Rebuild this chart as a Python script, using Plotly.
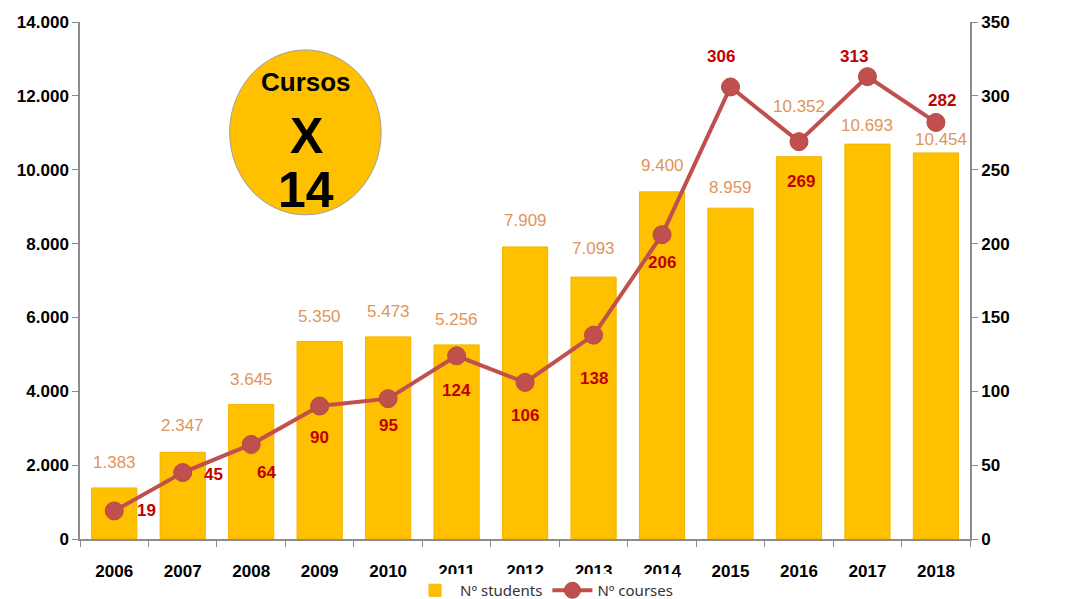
import plotly.graph_objects as go
from plotly.subplots import make_subplots

years = ["2006", "2007", "2008", "2009", "2010", "2011", "2012",
         "2013", "2014", "2015", "2016", "2017", "2018"]
students = [1383, 2347, 3645, 5350, 5473, 5256, 7909,
            7093, 9400, 8959, 10352, 10693, 10454]
courses = [19, 45, 64, 90, 95, 124, 106, 138, 206, 306, 269, 313, 282]

# label offsets in pixels (style only)
stud_dx = [0, 0, 0, 0, 0, 0, 0, 0, 0, 0, 0, 0, 5]
stud_dy = [25, 27, 25, 25, 25, 25, 26, 29, 26, 21, 50, 19, 13]
course_dx = [32, 31, 15, 0, 0, 0, 0, 0, 0, -10, 2, -13, 6]
course_dy = [0, -2, -28, -31, -27, -35, -33, -43, -28, 30, -40, 20, 22]

BAR = "#FFC000"
LINE = "#C0504D"
STUD_TXT = "#E0955A"
COURSE_TXT = "#C00000"
AXIS = "#8C8C8C"

fig = make_subplots(specs=[[{"secondary_y": True}]])

fig.add_trace(
    go.Bar(x=years, y=students, name="Nº students",
           marker=dict(color=BAR, line=dict(color="#F2B400", width=1))),
    secondary_y=False,
)

fig.add_trace(
    go.Scatter(x=years, y=courses, name="Nº courses", mode="lines+markers",
               line=dict(color=LINE, width=4),
               marker=dict(color=LINE, size=18, line=dict(color="#B84744", width=1))),
    secondary_y=True,
)

# student labels above bars (x given as category index)
for i, s in enumerate(students):
    fig.add_annotation(x=i, y=s, xref="x", yref="y", text=f"{s:,}".replace(",", "."),
                       showarrow=False, xshift=stud_dx[i], yshift=stud_dy[i],
                       font=dict(family="Arial", size=17, color=STUD_TXT))

# course labels around the markers
for i, c in enumerate(courses):
    fig.add_annotation(x=i, y=c, xref="x", yref="y2", text=f"<b>{c}</b>",
                       showarrow=False, xshift=course_dx[i], yshift=course_dy[i],
                       font=dict(family="Arial", size=17, color=COURSE_TXT))

# yellow "Cursos X 14" badge
fig.add_shape(type="circle", xref="paper", yref="paper",
              x0=0.158, x1=0.318, y0=0.627, y1=0.946,
              fillcolor=BAR, line=dict(color="#A0A0A0", width=1), layer="above")
badge = [("Cursos", 26, 0.884), ("X", 50, 0.779), ("14", 50, 0.675)]
for txt, size, ypos in badge:
    fig.add_annotation(x=0.239, y=ypos, xref="paper", yref="paper",
                       xanchor="center", yanchor="middle",
                       text=f"<b>{txt}</b>", showarrow=False,
                       font=dict(family="Arial", size=size, color="black"))

fig.update_layout(
    width=1077, height=599,
    margin=dict(l=72, r=58, t=14, b=68, autoexpand=False),
    plot_bgcolor="white", paper_bgcolor="white",
    separators=",.",
    bargap=0.34,
    showlegend=True,
    legend=dict(orientation="h", x=0.49, xanchor="center", yref="container",
                y=0.0, yanchor="bottom",
                font=dict(family="Noto Sans", size=15, color="#333333"),
                itemwidth=40, tracegroupgap=0),
    font=dict(family="Arial", color="black"),
)
fig.update_xaxes(type="category", range=[-0.5, 12.5], showline=True, linecolor=AXIS,
                 linewidth=1.5, ticks="outside", tickson="boundaries", ticklen=6,
                 tickcolor=AXIS, tickangle=0, ticklabelstandoff=16,
                 tickfont=dict(family="Arial", size=17, weight="bold"), showgrid=False)
fig.update_yaxes(range=[0, 14000], dtick=2000, tickformat=",d", showline=True,
                 linecolor=AXIS, linewidth=1.5, ticks="outside", ticklen=6, tickcolor=AXIS,
                 tickfont=dict(family="Arial", size=17, weight="bold"),
                 showgrid=False, zeroline=False, secondary_y=False)
fig.update_yaxes(range=[0, 350], dtick=50, showline=True, linecolor=AXIS, linewidth=1.5,
                 ticks="outside", ticklen=6, tickcolor=AXIS,
                 tickfont=dict(family="Arial", size=17, weight="bold"),
                 showgrid=False, zeroline=False, secondary_y=True)

fig.write_html("out.html")
